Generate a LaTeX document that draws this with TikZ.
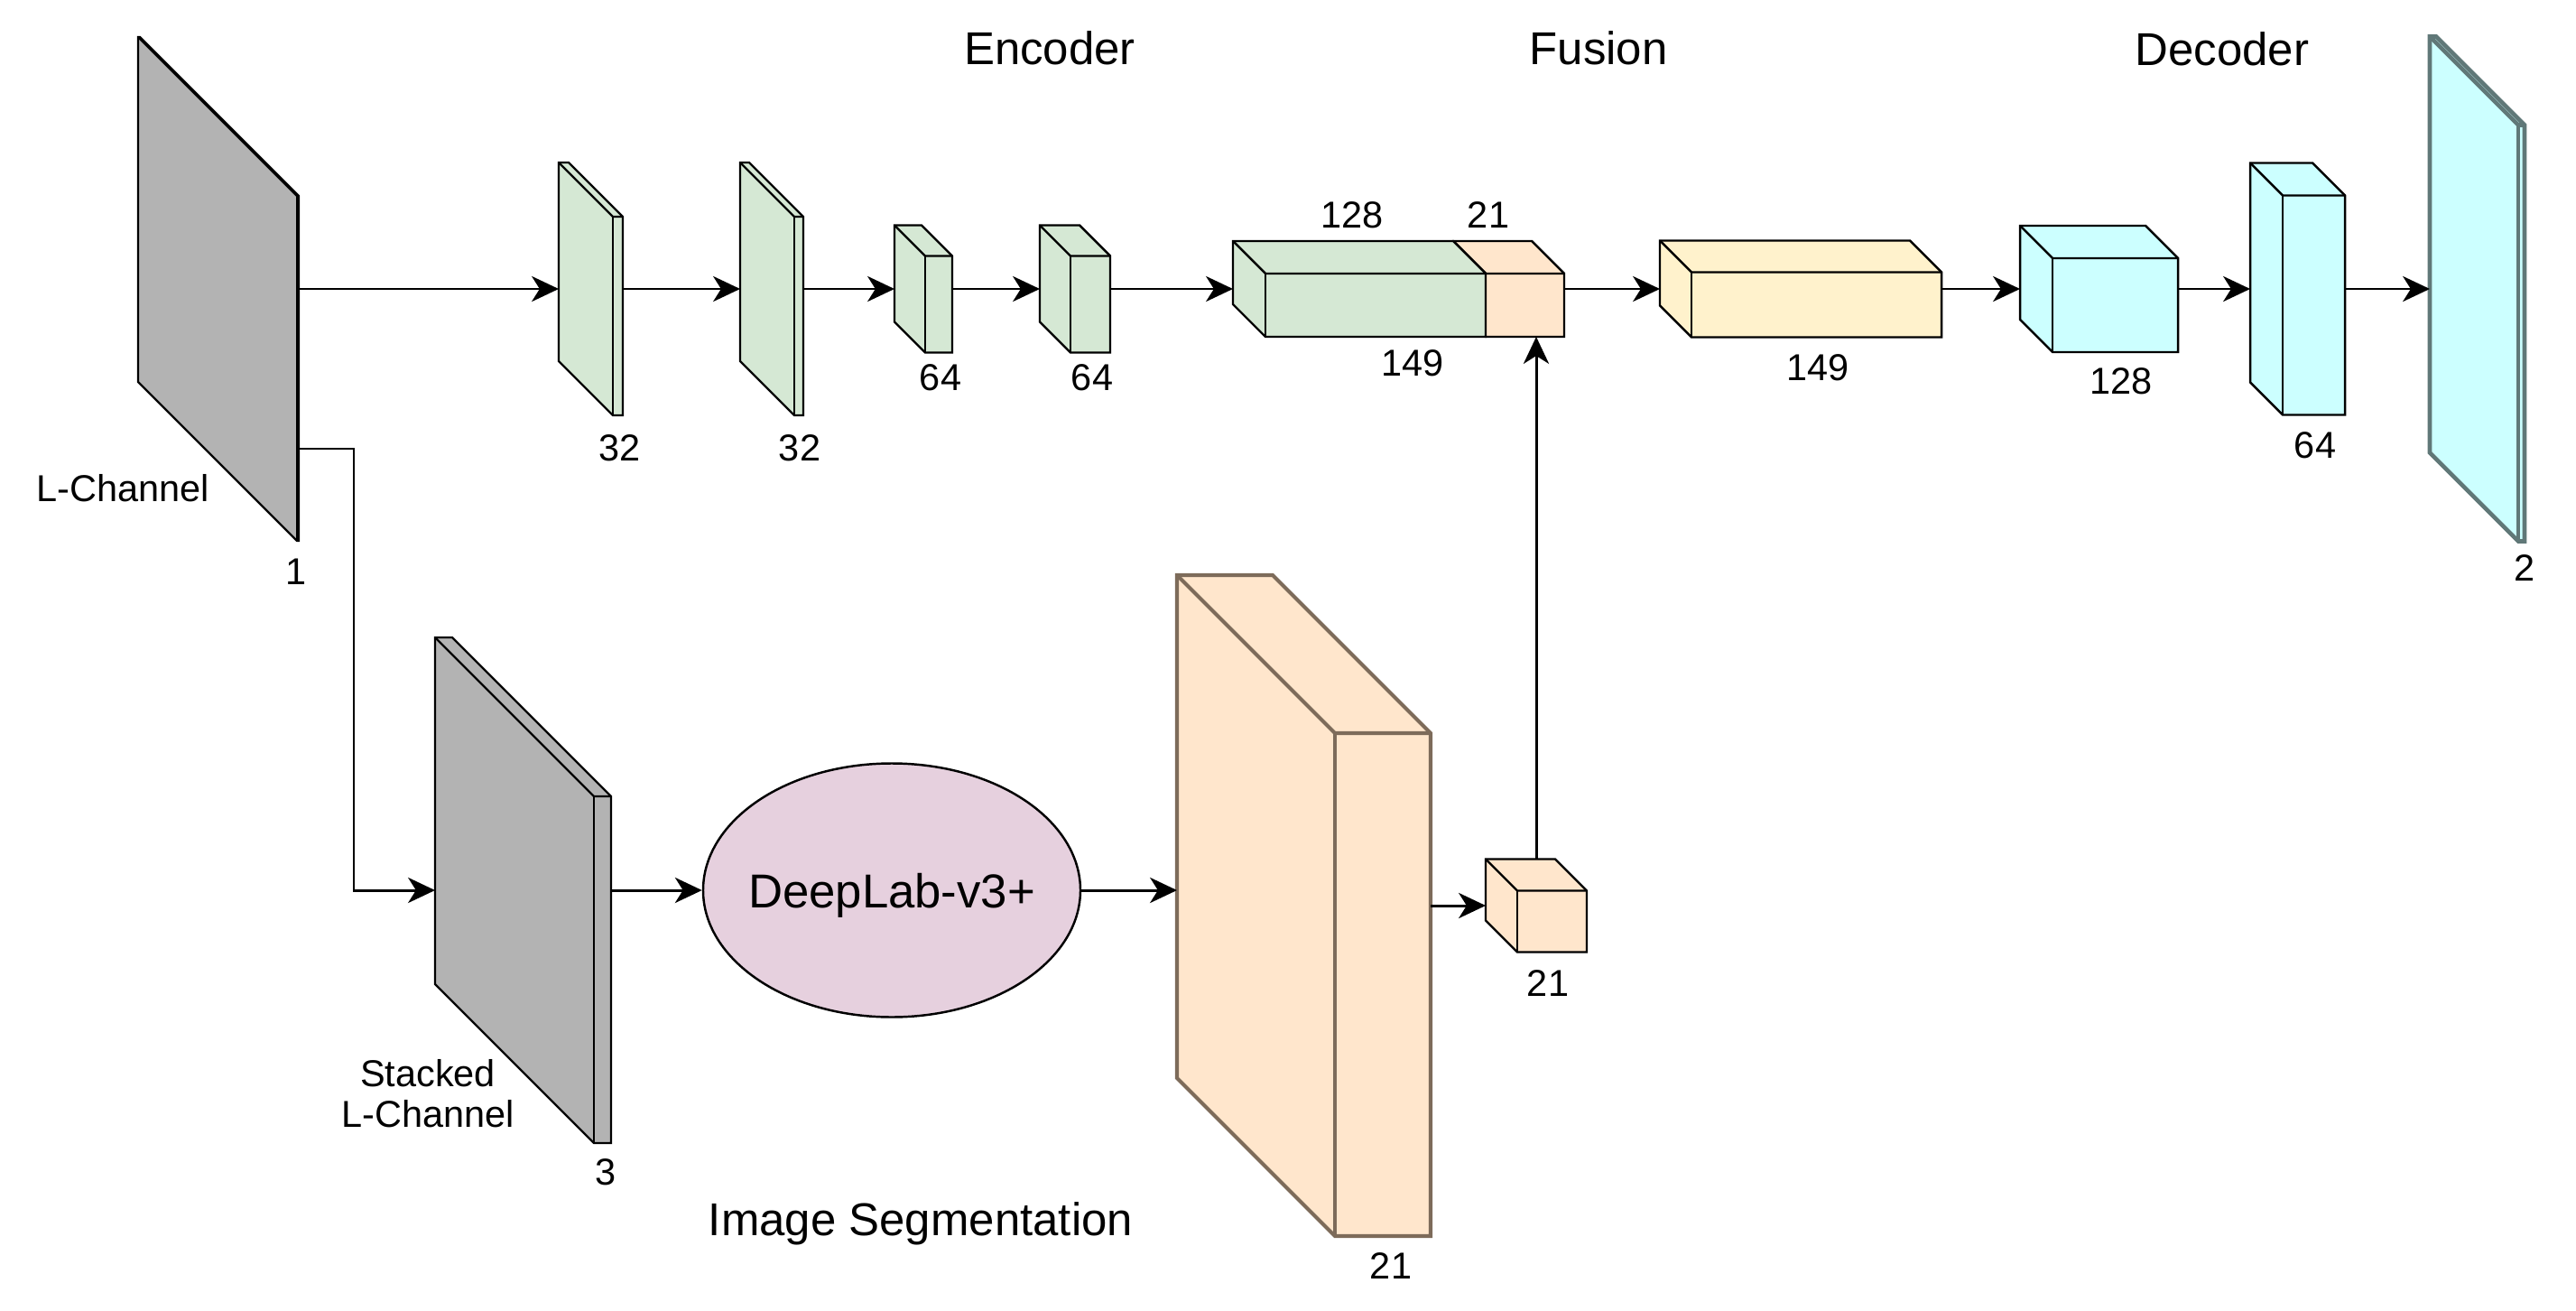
\documentclass[tikz,border=0pt]{standalone}
\usepackage{fontspec}
\setmainfont{Liberation Sans}
\usetikzlibrary{arrows.meta,shapes.geometric,calc}

\definecolor{greenfill}{HTML}{D5E8D4}
\definecolor{orangefill}{HTML}{FFE6CC}
\definecolor{yellowfill}{HTML}{FFF2CC}
\definecolor{cyanfill}{HTML}{CCFFFF}
\definecolor{grayfill}{HTML}{B3B3B3}
\definecolor{pinkfill}{HTML}{E6D0DE}
\definecolor{brownline}{HTML}{7D6B5A}
\definecolor{tealline}{HTML}{607878}

% feature map as a box: name, centre, width, height, depth, fill, line
\newcommand\fmap[7]{%
  \node[slab,minimum width=#3cm,minimum height=#4cm] (#1) at (#2) {};
  \filldraw[fill=#6,#7] (#1.north west) -- ++({#3-#5},0) -- ++(#5,#5)
    -- (#1.south east) -- ++({#5-#3},0) -- ++(-#5,-#5) -- cycle;
  \draw[#7] (#1.north west) -- ++(#5,#5) -- ++({#3-#5},0);
  \draw[#7] (#1.north west) ++(#5,#5) -- ++(0,{#4-#5});
}

\begin{document}
\begin{tikzpicture}[x=1cm,y=-1cm,line width=0.7pt,
                    >={Stealth[length=8.5pt,width=8pt,inset=2.5pt]},
                    flow/.style={->,line width=0.85pt},
                    slab/.style={rectangle,inner sep=0pt,outer sep=0pt},
                    num/.style={font=\fontsize{11.8}{13}\selectfont,text depth=0pt},
                    title/.style={font=\fontsize{14.5}{17}\selectfont,text depth=0pt}]

  \useasboundingbox (0,0) rectangle (28.54,14.52);

  % colourisation branch
  \fmap{lch}{2.42,3.20}{1.78}{5.58}{1.76}{grayfill}{draw=black}
  \fmap{g1}{6.545,3.20}{0.71}{2.80}{0.60}{greenfill}{draw=black}
  \fmap{g2}{8.55,3.20}{0.70}{2.80}{0.60}{greenfill}{draw=black}
  \fmap{c1}{10.23,3.20}{0.64}{1.41}{0.34}{greenfill}{draw=black}
  \fmap{c2}{11.91,3.20}{0.78}{1.41}{0.34}{greenfill}{draw=black}
  \fmap{fo}{16.715,3.20}{1.23}{1.06}{0.36}{orangefill}{draw=black}
  \fmap{fg}{15.06,3.20}{2.80}{1.06}{0.36}{greenfill}{draw=black}
  \fmap{ye}{19.95,3.20}{3.12}{1.07}{0.35}{yellowfill}{draw=black}
  \fmap{d1}{23.255,3.20}{1.75}{1.40}{0.36}{cyanfill}{draw=black}
  \fmap{d2}{25.455,3.20}{1.05}{2.79}{0.36}{cyanfill}{draw=black}
  \fmap{out}{27.445,3.20}{1.05}{5.59}{0.98}{cyanfill}{draw=tealline,line width=1.3pt}

  % segmentation branch
  \fmap{stk}{5.795,9.86}{1.95}{5.60}{1.76}{grayfill}{draw=black}
  \node[ellipse,draw,fill=pinkfill,inner sep=0pt,minimum width=4.18cm,minimum height=2.81cm,
        font=\fontsize{15}{18}\selectfont,text depth=0pt] (dl) at (9.88,9.86)
        {\makebox[0pt]{DeepLab-v3+}};
  \fmap{seg}{14.445,10.03}{2.81}{7.32}{1.75}{orangefill}{draw=brownline,line width=1.2pt}
  \fmap{sc}{17.02,10.03}{1.12}{1.03}{0.35}{orangefill}{draw=black}

  \coordinate (tap) at ($(lch.south east)+(0,-1.02)$);

  \draw[flow] (lch.east) -- (g1.west);
  \draw[flow] (g1.east) -- (g2.west);
  \draw[flow] (g2.east) -- (c1.west);
  \draw[flow] (c1.east) -- (c2.west);
  \draw[flow] (c2.east) -- (fg.west);
  \draw[flow] (fo.east) -- (ye.west);
  \draw[flow] (ye.east) -- (d1.west);
  \draw[flow] (d1.east) -- (d2.west);
  \draw[flow] (d2.east) -- (out.west);
  \draw[flow] (tap) -- ++(0.61,0) |- (stk.west);
  \draw[flow] (stk.east) -- (dl.west);
  \draw[flow] (dl.east) -- (dl.east -| seg.west);
  \draw[flow] (seg.east) -- (sc.west);
  \draw[flow] (sc.north) -- (sc.north |- fo.south);

  % titles
  \node[title] (enc)   at (11.63,0.53)  {Encoder};
  \node[title] (fus)   at (17.71,0.53)  {Fusion};
  \node[title] (dec)   at (24.62,0.54)  {Decoder};
  \node[title] (imseg) at (10.20,13.50) {Image Segmentation};

  % names and channel counts
  \node[num] (lchname) at (1.36,5.40) {L-Channel};
  \node[num,align=center] (stkname) at (4.74,12.11) {Stacked\\L-Channel};
  \node[num] (nlch) at (3.28,6.33)   {1};
  \node[num] (ng1)  at (6.87,4.96)   {32};
  \node[num] (ng2)  at (8.86,4.96)   {32};
  \node[num] (nc1)  at (10.42,4.18)  {64};
  \node[num] (nc2)  at (12.10,4.18)  {64};
  \node[num] (nfg)  at (14.98,2.38)  {128};
  \node[num] (nfo)  at (16.49,2.38)  {21};
  \node[num] (nfu)  at (15.65,4.02)  {149};
  \node[num] (nye)  at (20.14,4.07)  {149};
  \node[num] (nd1)  at (23.50,4.22)  {128};
  \node[num] (nd2)  at (25.65,4.93)  {64};
  \node[num] (nout) at (27.97,6.29)  {2};
  \node[num] (nstk) at (6.71,12.98)  {3};
  \node[num] (nseg) at (15.41,14.02) {21};
  \node[num] (nsc)  at (17.15,10.89) {21};
\end{tikzpicture}
\end{document}
